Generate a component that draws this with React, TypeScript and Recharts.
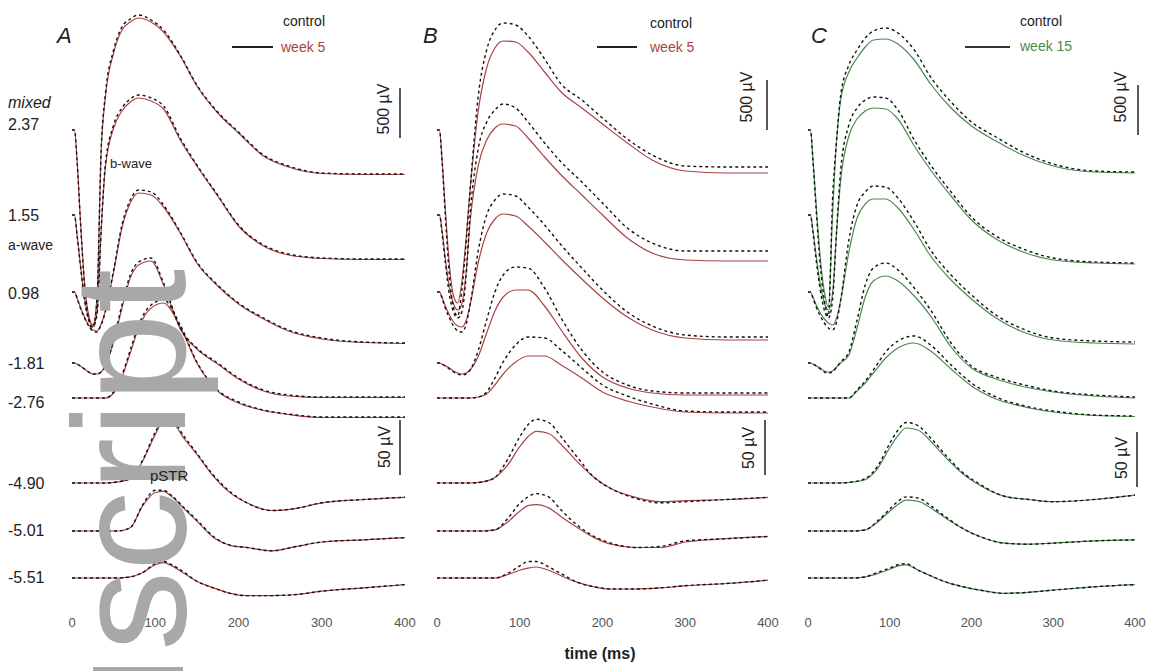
import React from "react";
import { LineChart, Line, XAxis, YAxis } from "recharts";

// sample times (ms): mixed responses need the fast a-wave, STR is slower
const TIME_MIXED = [0, 3, 6, 10, 15, 20, 25, 30, 35, 40, 50, 60, 70, 80, 95, 110, 130, 150, 175, 200, 230, 260, 300, 350, 400];
const TIME_STR = [0, 20, 40, 55, 70, 85, 100, 110, 120, 135, 150, 170, 190, 210, 240, 270, 300, 350, 400];
const X_TICKS = [0, 100, 200, 300, 400];

// flash intensities (log cd.s/m2), rows top to bottom
const INTENSITIES = ["2.37", "1.55", "0.98", "-1.81", "-2.76", "-4.90", "-5.01", "-5.51"];

// responses in µV relative to pre-flash baseline; rows 0-4 use TIME_MIXED, rows 5-7 use TIME_STR
const A_CONTROL = [
  [0, 0, -300, -900, -1550, -1880, -1980, -1700, -200, 350, 800, 1030, 1110, 1150, 1100, 1000, 750, 450, 180, -20, -250, -360, -430, -440, -440],
  [0, 0, -200, -500, -850, -1050, -1120, -1000, -150, 500, 900, 1070, 1160, 1200, 1170, 1090, 770, 500, 200, -100, -300, -390, -430, -440, -440],
  [0, 0, -60, -160, -260, -340, -390, -400, -330, -200, 220, 670, 920, 1020, 1000, 870, 600, 300, 70, -110, -260, -380, -460, -500, -510],
  [0, 0, -10, -30, -60, -90, -110, -110, -90, -30, 230, 580, 880, 1010, 1050, 800, 350, 150, 0, -150, -270, -320, -340, -340, -340],
  [0, 0, 0, 0, 0, 0, 0, 0, 0, 0, 60, 230, 480, 730, 930, 980, 730, 360, 80, -40, -120, -160, -190, -190, -190],
  [0, 0, 0, 1, 4, 21, 46, 58, 57, 42, 27, 7, -8, -18, -25, -23, -18, -15, -13],
  [0, 0, 0, 0, 3, 24, 37, 37, 32, 21, 10, -5, -13, -15, -18, -14, -10, -8, -6],
  [0, 0, 0, 0, 1, 5, 13, 15, 12, 5, -3, -9, -14, -16, -16, -15, -12, -9, -6],
];
const A_WEEK5 = [
  [0, 0, -290, -880, -1520, -1850, -1950, -1680, -220, 320, 770, 1000, 1080, 1120, 1080, 980, 740, 440, 170, -30, -260, -370, -435, -445, -445],
  [0, 0, -190, -490, -830, -1030, -1100, -980, -160, 470, 870, 1040, 1130, 1170, 1140, 1060, 750, 490, 190, -110, -310, -400, -435, -445, -445],
  [0, 0, -60, -150, -250, -330, -380, -390, -320, -190, 200, 640, 890, 990, 970, 850, 590, 290, 60, -120, -270, -390, -470, -505, -515],
  [0, 0, -10, -30, -60, -90, -110, -110, -90, -30, 210, 550, 850, 980, 1020, 780, 340, 140, -10, -160, -280, -330, -345, -345, -345],
  [0, 0, 0, 0, 0, 0, 0, 0, 0, 0, 50, 210, 450, 700, 900, 950, 710, 350, 70, -50, -125, -165, -195, -195, -195],
  [0, 0, 0, 1, 4, 20, 44, 56, 55, 40, 26, 6, -9, -18, -25, -23, -18, -15, -13],
  [0, 0, 0, 0, 3, 23, 35, 36, 31, 20, 9, -6, -13, -15, -18, -14, -10, -8, -6],
  [0, 0, 0, 0, 1, 5, 12, 14, 11, 4, -3, -9, -14, -16, -16, -15, -12, -9, -6],
];
const B_CONTROL = [
  [0, 0, -300, -850, -1450, -1780, -1860, -1600, -1150, -600, 350, 800, 1000, 1070, 1050, 940, 710, 460, 300, 120, -90, -250, -360, -370, -370],
  [0, 0, -170, -470, -800, -970, -1030, -970, -630, 0, 670, 930, 1050, 1110, 1070, 930, 720, 530, 330, 120, -130, -280, -360, -360, -360],
  [0, 0, -60, -160, -260, -340, -390, -400, -330, -130, 420, 770, 920, 980, 960, 850, 670, 470, 240, 20, -200, -340, -430, -450, -450],
  [0, 0, -10, -30, -60, -90, -110, -120, -110, -70, 130, 430, 710, 880, 960, 950, 750, 450, 130, -90, -220, -280, -300, -300, -300],
  [0, 0, 0, 0, 0, 0, 0, 0, 0, 0, 10, 60, 200, 360, 530, 610, 600, 480, 300, 130, 20, -60, -130, -140, -140],
  [0, 0, 0, 1, 5, 21, 42, 53, 58, 55, 42, 23, 5, -5, -14, -18, -17, -15, -13],
  [0, 0, 0, 0, 1, 11, 25, 31, 34, 31, 19, 5, -5, -11, -15, -14, -9, -7, -5],
  [0, 0, 0, 0, 0, 4, 11, 15, 15, 10, 4, -4, -8, -10, -10, -9, -7, -5, -2],
];
const B_WEEK5 = [
  [0, 0, -280, -780, -1350, -1660, -1730, -1520, -1100, -600, 200, 620, 820, 890, 880, 780, 580, 380, 220, 60, -130, -300, -410, -430, -430],
  [0, 0, -150, -430, -730, -890, -950, -890, -590, -70, 500, 750, 870, 910, 890, 770, 580, 400, 200, 0, -230, -380, -450, -460, -460],
  [0, 0, -50, -140, -230, -300, -340, -350, -290, -130, 300, 590, 730, 780, 760, 660, 500, 330, 130, -60, -250, -380, -460, -480, -480],
  [0, 0, -10, -30, -50, -80, -100, -110, -100, -70, 70, 300, 520, 660, 730, 730, 570, 330, 50, -140, -250, -300, -320, -320, -320],
  [0, 0, 0, 0, 0, 0, 0, 0, 0, 0, 10, 40, 130, 240, 360, 420, 420, 330, 200, 60, -30, -90, -140, -150, -150],
  [0, 0, 0, 1, 5, 16, 33, 42, 47, 45, 35, 19, 5, -5, -13, -17, -16, -15, -13],
  [0, 0, 0, 0, 1, 8, 18, 23, 24, 21, 13, 3, -6, -12, -15, -15, -10, -7, -5],
  [0, 0, 0, 0, 0, 3, 7, 9, 10, 7, 2, -4, -8, -10, -10, -9, -7, -5, -2],
];
const C_CONTROL = [
  [0, 0, -300, -800, -1350, -1700, -1860, -700, -100, 350, 650, 800, 920, 990, 1020, 970, 800, 530, 280, 80, -70, -210, -340, -410, -420],
  [0, 0, -170, -450, -750, -950, -1030, -850, -150, 450, 900, 1070, 1150, 1180, 1170, 1050, 750, 500, 230, -20, -210, -330, -430, -470, -480],
  [0, 0, -60, -150, -240, -310, -360, -380, -300, -80, 520, 870, 1000, 1060, 1050, 940, 700, 420, 170, -30, -230, -360, -460, -490, -500],
  [0, 0, -10, -30, -60, -90, -100, -90, -40, 10, 110, 430, 780, 950, 1000, 930, 750, 530, 200, -30, -140, -210, -280, -320, -340],
  [0, 0, 0, 0, 0, 0, 0, 0, 0, 0, 0, 80, 170, 280, 460, 570, 620, 530, 330, 150, 10, -70, -130, -170, -180],
  [0, 0, 0, 1, 4, 15, 36, 48, 55, 52, 41, 24, 9, -1, -12, -15, -17, -15, -11],
  [0, 0, 0, 0, 1, 9, 20, 27, 31, 30, 23, 12, 2, -5, -11, -12, -11, -9, -8],
  [0, 0, 0, 0, 1, 5, 9, 12, 13, 7, 2, -4, -8, -11, -14, -13, -11, -8, -6],
];
const C_WEEK15 = [
  [0, 0, -280, -750, -1280, -1620, -1770, -850, -100, 300, 580, 720, 830, 900, 910, 860, 700, 460, 220, 40, -110, -240, -360, -420, -430],
  [0, 0, -150, -410, -690, -880, -950, -790, -170, 350, 790, 960, 1040, 1070, 1060, 960, 690, 450, 190, -50, -240, -360, -450, -480, -490],
  [0, 0, -50, -130, -210, -270, -310, -330, -260, -80, 400, 740, 880, 930, 930, 840, 620, 360, 120, -70, -260, -390, -480, -510, -520],
  [0, 0, -10, -30, -50, -80, -90, -80, -40, 0, 80, 350, 660, 820, 870, 820, 670, 470, 160, -50, -160, -230, -290, -330, -350],
  [0, 0, 0, 0, 0, 0, 0, 0, 0, 0, 0, 70, 150, 250, 400, 500, 550, 470, 290, 120, -10, -80, -140, -175, -185],
  [0, 0, 0, 1, 3, 13, 32, 43, 50, 48, 38, 22, 8, -2, -12, -15, -17, -15, -11],
  [0, 0, 0, 0, 1, 8, 18, 24, 28, 27, 21, 11, 2, -5, -11, -12, -11, -9, -8],
  [0, 0, 0, 0, 1, 4, 8, 11, 12, 7, 2, -4, -8, -11, -14, -13, -11, -8, -6],
];

// layout
const FONT = "'Liberation Sans', Arial, sans-serif";
const TOP = 10; // plot top (px)
const UNITS_PER_PX = 10; // 500 µV = 50 px for mixed responses
const STR_GAIN = 11; // STR drawn 11x larger (50 µV = 55 px)
const ROW_Y = [130, 215, 292, 363, 398, 483, 531, 578];
const CHART_H = 640;
const RED = "#a84444";
const GREEN = "#4a8a4a";

const rowData = (values: number[], row: number) => {
  const isStr = row >= 5;
  const times = isStr ? TIME_STR : TIME_MIXED;
  const gain = isStr ? STR_GAIN : 1;
  const offset = -(ROW_Y[row] - TOP) * UNITS_PER_PX;
  return times.map((t, i) => ({ t, v: offset + values[i] * gain }));
};

type PanelProps = {
  plotLeft: number;
  plotWidth: number;
  control: number[][];
  treated: number[][];
  color: string;
};

const Panel = ({ plotLeft, plotWidth, control, treated, color }: PanelProps) => (
  <div style={{ position: "absolute", left: plotLeft - 20, top: 0 }}>
    <LineChart
      width={plotWidth + 40}
      height={CHART_H}
      margin={{ top: TOP, right: 20, left: 20, bottom: 0 }}
    >
      <XAxis
        dataKey="t"
        type="number"
        domain={[0, 400]}
        ticks={X_TICKS}
        allowDataOverflow
        axisLine={false}
        tickLine={false}
        height={30}
        tick={{ fontSize: 13, fill: "#555", fontFamily: FONT }}
      />
      <YAxis type="number" domain={[-6000, 0]} hide allowDataOverflow />
      {treated.map((vals, r) => (
        <Line
          key={"tr" + r}
          data={rowData(vals, r)}
          dataKey="v"
          type="monotone"
          stroke={color}
          strokeWidth={1.2}
          dot={false}
          isAnimationActive={false}
        />
      ))}
      {control.map((vals, r) => (
        <Line
          key={"ct" + r}
          data={rowData(vals, r)}
          dataKey="v"
          type="monotone"
          stroke="#111"
          strokeWidth={1.4}
          strokeDasharray="3 3"
          dot={false}
          isAnimationActive={false}
        />
      ))}
    </LineChart>
  </div>
);

const VText = ({ x, y, children }: { x: number; y: number; children: React.ReactNode }) => (
  <text
    transform={`translate(${x},${y}) rotate(-90)`}
    textAnchor="middle"
    dominantBaseline="central"
    fontSize={16}
    fill="#222"
  >
    {children}
  </text>
);

const Bar = ({ x, y1, y2 }: { x: number; y1: number; y2: number }) => (
  <line x1={x} x2={x} y1={y1} y2={y2} stroke="#222" strokeWidth={1.5} />
);

const labelY = [124, 215, 293, 363, 402, 483, 530, 577];

export default function App() {
  return (
    <div style={{ position: "absolute", left: 0, top: 0, width: 1157, height: 671, background: "#fff" }}>
      <Panel plotLeft={72} plotWidth={333} control={A_CONTROL} treated={A_WEEK5} color={RED} />
      <Panel plotLeft={437} plotWidth={331} control={B_CONTROL} treated={B_WEEK5} color={RED} />
      <Panel plotLeft={808} plotWidth={327} control={C_CONTROL} treated={C_WEEK15} color={GREEN} />

      <svg width={1157} height={671} style={{ position: "absolute", left: 0, top: 0, pointerEvents: "none" }}>
        <g fontFamily={FONT} fill="#222">
          <text x={57} y={43} fontSize={22} fontStyle="italic">A</text>
          <text x={423} y={43} fontSize={22} fontStyle="italic">B</text>
          <text x={811} y={43} fontSize={22} fontStyle="italic">C</text>

          {/* legends */}
          <text x={283} y={26} fontSize={14}>control</text>
          <line x1={232} x2={273} y1={47} y2={47} stroke="#222" strokeWidth={2} />
          <text x={281} y={52} fontSize={14} fill={RED}>week 5</text>
          <text x={650} y={28} fontSize={14}>control</text>
          <line x1={597} x2={637} y1={47} y2={47} stroke="#222" strokeWidth={2} />
          <text x={650} y={52} fontSize={14} fill={RED}>week 5</text>
          <text x={1020} y={26} fontSize={14}>control</text>
          <line x1={965} x2={1010} y1={47} y2={47} stroke="#2a3a2a" strokeWidth={2} />
          <text x={1020} y={51} fontSize={14} fill={GREEN}>week 15</text>

          {/* row labels */}
          <text x={8} y={108} fontSize={16} fontStyle="italic">mixed</text>
          {INTENSITIES.map((s, i) => (
            <text key={s} x={8} y={labelY[i] + 6} fontSize={16}>{s}</text>
          ))}
          <text x={110} y={168} fontSize={13}>b-wave</text>
          <text x={8} y={250} fontSize={14}>a-wave</text>

          {/* scale bars */}
          <VText x={383} y={109}>500 µV</VText>
          <Bar x={400} y1={88} y2={138} />
          <VText x={384} y={447}>50 µV</VText>
          <Bar x={400} y1={420} y2={475} />
          <VText x={746} y={97}>500 µV</VText>
          <Bar x={767} y1={80} y2={130} />
          <VText x={748} y={448}>50 µV</VText>
          <Bar x={765} y1={420} y2={475} />
          <VText x={1120} y={97}>500 µV</VText>
          <Bar x={1138} y1={85} y2={135} />
          <VText x={1121} y={458}>50 µV</VText>
          <Bar x={1137} y1={432} y2={487} />

          <text x={600} y={659} fontSize={16} fontWeight="bold" textAnchor="middle">time (ms)</text>
        </g>

        {/* grey overlay word */}
        <text transform="translate(185,651) rotate(-90)" fontSize={160} fontFamily={FONT} fill="#a8a8a8">script</text>
        <rect x={93} y={667} width={90} height={4} fill="#a8a8a8" />
        <text x={150} y={481} fontSize={15} fontFamily={FONT} fill="#222">pSTR</text>
      </svg>
    </div>
  );
}
